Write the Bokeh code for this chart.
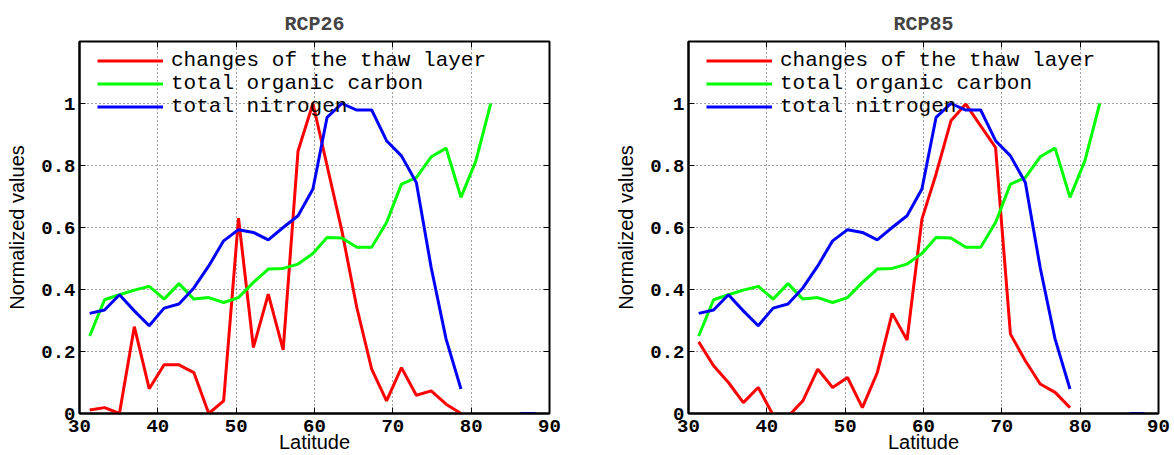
from bokeh.plotting import figure
from bokeh.layouts import row
from bokeh.models import FixedTicker, LinearAxis
from bokeh.embed import file_html
from bokeh.resources import INLINE

nan = float("nan")

# latitude centres of the bins (degrees N)
lat = [31.3, 33.2, 35.1, 37.0, 38.9, 40.8, 42.7, 44.6, 46.5, 48.4, 50.3, 52.2,
       54.1, 56.0, 57.9, 59.8, 61.6, 63.5, 65.4, 67.3, 69.2, 71.1, 73.0, 74.9,
       76.8, 78.7, 80.6, 82.5, 84.4, 86.3, 88.2]

thaw_rcp26 = [0.011, 0.019, 0.0, 0.28, 0.08, 0.157, 0.157, 0.132, 0.0, 0.041,
              0.63, 0.213, 0.385, 0.205, 0.847, 1.0, 0.8, 0.589, 0.342, 0.143,
              0.041, 0.148, 0.059, 0.073, 0.03, 0.0]

thaw_rcp85 = [0.231, 0.154, 0.1, 0.035, 0.084, -0.005, -0.01, 0.041, 0.143, 0.084,
              0.116, 0.019, 0.132, 0.323, 0.237, 0.627, 0.772, 0.944, 0.998, 0.928,
              0.858, 0.256, 0.17, 0.095, 0.068, 0.019]

organic_carbon = [0.25, 0.367, 0.383, 0.398, 0.41, 0.369, 0.419, 0.369, 0.374, 0.358,
                  0.374, 0.423, 0.466, 0.468, 0.482, 0.516, 0.568, 0.566, 0.536, 0.536,
                  0.616, 0.74, 0.761, 0.828, 0.856, 0.697, 0.815, 1.0]

nitrogen = [0.323, 0.334, 0.383, 0.331, 0.283, 0.34, 0.353, 0.405, 0.476, 0.557,
            0.593, 0.584, 0.56, 0.6, 0.638, 0.724, 0.955, 1.0, 0.979, 0.979,
            0.88, 0.831, 0.745, 0.47, 0.24, 0.079, nan, nan, nan, 0.0, 0.0]

series_names = ["changes of the thaw layer", "total organic carbon", "total nitrogen"]
panel_titles = ["RCP26", "RCP85"]

x_ticks = [30, 40, 50, 60, 70, 80, 90]
y_ticks = [0, 0.2, 0.4, 0.6, 0.8, 1.0]
y_tick_labels = ["0", "0.2", "0.4", "0.6", "0.8", "1"]

MONO = "Liberation Mono"
SANS = "Liberation Sans"


def make_panel(title, thaw, width, left, right):
    p = figure(width=width, height=455, x_range=(30, 90), y_range=(0, 1.2),
               output_backend="svg", toolbar_location=None,
               min_border_left=left, min_border_right=right,
               min_border_top=41, min_border_bottom=42)
    p.title.text = title
    p.title.align = "center"
    p.title.text_font = MONO
    p.title.text_font_style = "bold"
    p.title.text_font_size = "20px"
    p.title.standoff = 12
    p.background_fill_color = "white"
    p.border_fill_color = "white"
    p.outline_line_color = "black"
    p.outline_line_width = 2

    p.xaxis.ticker = FixedTicker(ticks=x_ticks)
    p.yaxis.ticker = FixedTicker(ticks=y_ticks)
    p.yaxis.major_label_overrides = {t: s for t, s in zip(y_ticks, y_tick_labels)}

    for ax in (p.xaxis[0], p.yaxis[0]):
        ax.axis_line_color = "black"
        ax.axis_line_width = 2
        ax.major_tick_in = 6
        ax.major_tick_out = 0
        ax.minor_tick_in = 0
        ax.minor_tick_out = 0
        ax.major_tick_line_color = "black"
        ax.major_tick_line_width = 1
        ax.major_label_text_font = MONO
        ax.major_label_text_font_style = "bold"
        ax.major_label_text_font_size = "19px"
        ax.major_label_text_color = "black"
        ax.axis_label_text_font = SANS
        ax.axis_label_text_font_style = "normal"
        ax.axis_label_text_font_size = "20px"
        ax.axis_label_text_color = "black"

    p.xaxis.axis_label = "Latitude"
    p.xaxis.major_label_standoff = 6
    p.xaxis.axis_label_standoff = -4
    p.yaxis.axis_label = "Normalized values"
    p.yaxis.major_label_standoff = 4
    p.yaxis.axis_label_standoff = 10

    # tick marks (no labels) on the top and right sides of the box
    top = LinearAxis(ticker=FixedTicker(ticks=[], minor_ticks=x_ticks),
                     major_tick_in=0, major_tick_out=0,
                     minor_tick_in=6, minor_tick_out=0, axis_line_color=None,
                     minor_tick_line_color="black", major_label_standoff=0)
    rgt = LinearAxis(ticker=FixedTicker(ticks=[], minor_ticks=y_ticks),
                     major_tick_in=0, major_tick_out=0,
                     minor_tick_in=6, minor_tick_out=0, axis_line_color=None,
                     minor_tick_line_color="black", major_label_standoff=0)
    p.add_layout(top, "above")
    p.add_layout(rgt, "right")

    p.grid.grid_line_color = "black"
    p.grid.grid_line_alpha = 0.75
    p.grid.grid_line_dash = "1 3"
    p.grid.grid_line_width = 1

    p.line(lat[:len(thaw)], thaw, color="#ff0000", line_width=3, legend_label=series_names[0])
    p.line(lat[:len(organic_carbon)], organic_carbon, color="#00ff00", line_width=3,
           legend_label=series_names[1])
    p.line(lat[:len(nitrogen)], nitrogen, color="#0000ff", line_width=3,
           legend_label=series_names[2])

    lg = p.legend[0]
    lg.location = (18, 295)
    lg.margin = 0
    lg.padding = 0
    lg.spacing = -5
    lg.glyph_width = 66
    lg.glyph_height = 21
    lg.label_height = 21
    lg.label_standoff = 8
    lg.label_text_font = MONO
    lg.label_text_font_size = "21px"
    lg.label_text_color = "black"
    lg.background_fill_alpha = 0
    lg.border_line_alpha = 0
    return p


p1 = make_panel(panel_titles[0], thaw_rcp26, 608, 79, 59)
p2 = make_panel(panel_titles[1], thaw_rcp85, 566, 80, 16)

layout = row(p1, p2)
open("out.html", "w").write(file_html(layout, INLINE))
